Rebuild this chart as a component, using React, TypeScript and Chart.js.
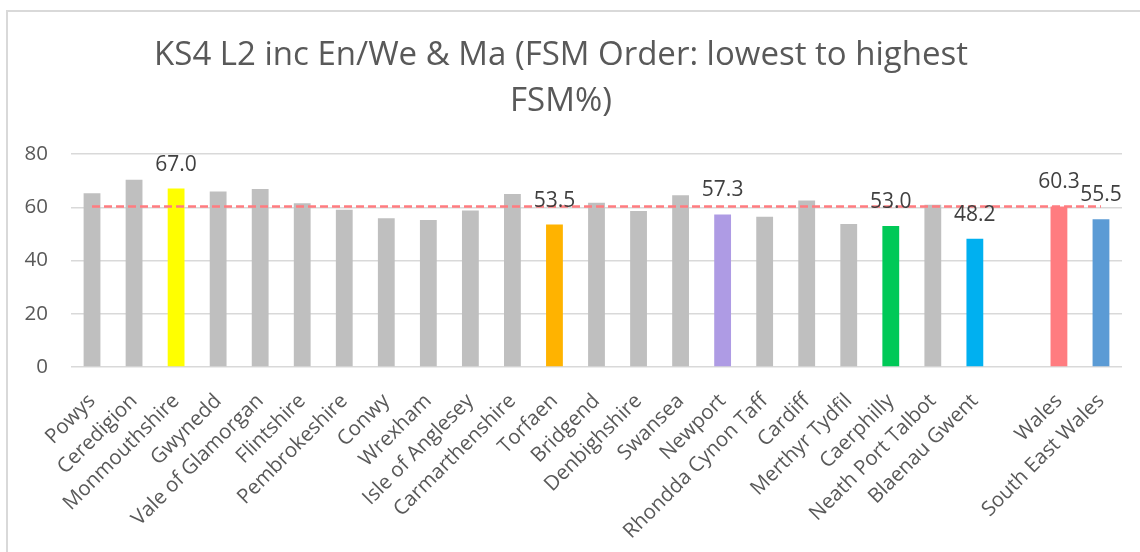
import React, { useEffect, useRef } from "react";
import { Chart, registerables } from "chart.js";

Chart.register(...registerables);

const categories = [
  "Powys", "Ceredigion", "Monmouthshire", "Gwynedd", "Vale of Glamorgan",
  "Flintshire", "Pembrokeshire", "Conwy", "Wrexham", "Isle of Anglesey",
  "Carmarthenshire", "Torfaen", "Bridgend", "Denbighshire", "Swansea",
  "Newport", "Rhondda Cynon Taff", "Cardiff", "Merthyr Tydfil", "Caerphilly",
  "Neath Port Talbot", "Blaenau Gwent", "", "Wales", "South East Wales",
];

const scores: (number | null)[] = [
  65.3, 70.3, 67.0, 65.9, 66.9,
  61.5, 59.1, 55.9, 55.2, 58.8,
  65.0, 53.5, 61.7, 58.6, 64.5,
  57.3, 56.4, 62.5, 53.7, 53.0,
  60.9, 48.2, null, 60.3, 55.5,
];

const walesAverage = 60.3;

const showValueLabel = [
  false, false, true, false, false,
  false, false, false, false, false,
  false, true, false, false, false,
  true, false, false, false, true,
  false, true, false, true, true,
];

const GREY = "#BFBFBF";
const barColors = [
  GREY, GREY, "#FFFF00", GREY, GREY,
  GREY, GREY, GREY, GREY, GREY,
  GREY, "#FFB300", GREY, GREY, GREY,
  "#AE9BE4", GREY, GREY, GREY, "#00C957",
  GREY, "#00B0F0", GREY, "#FF7C80", "#5B9BD5",
];

const yTicks = { min: 0, max: 80, step: 20 };

const titleLines = ["KS4 L2 inc En/We & Ma (FSM Order: lowest to highest", "FSM%)"];

const FONT = "'Open Sans', sans-serif";

const valueLabelPlugin = {
  id: "valueLabels",
  afterDatasetsDraw(chart: any) {
    const meta = chart.getDatasetMeta(0);
    const ctx = chart.ctx;
    ctx.save();
    ctx.font = `21px ${FONT}`;
    ctx.fillStyle = "#404040";
    ctx.textAlign = "center";
    ctx.textBaseline = "alphabetic";
    meta.data.forEach((bar: any, i: number) => {
      const v = scores[i];
      if (!showValueLabel[i] || v == null) return;
      ctx.fillText(v.toFixed(1), bar.x, bar.y - 18);
    });
    ctx.restore();
  },
};

export default function App() {
  const canvasRef = useRef<HTMLCanvasElement | null>(null);

  useEffect(() => {
    let chart: Chart | null = null;
    let cancelled = false;
    const build = () => {
      if (cancelled || !canvasRef.current) return;
      chart = new Chart(canvasRef.current, {
        type: "bar",
        data: {
          labels: categories,
          datasets: [
            {
              type: "bar",
              data: scores,
              backgroundColor: barColors,
              borderWidth: 0,
              barPercentage: 0.4,
              categoryPercentage: 1,
              order: 1,
            } as any,
            {
              type: "line",
              data: categories.map(() => walesAverage),
              borderColor: "#FF7C80",
              borderWidth: 2.5,
              borderDash: [8, 4],
              pointRadius: 0,
              fill: false,
              order: 0,
            } as any,
          ],
        },
        options: {
          animation: false,
          responsive: false,
          devicePixelRatio: 1,
          layout: { padding: { left: 0, right: 18, top: 0, bottom: 0 } },
          plugins: {
            legend: { display: false },
            tooltip: { enabled: false },
            title: {
              display: true,
              text: titleLines,
              color: "#595959",
              font: { family: FONT, size: 33, weight: "normal", lineHeight: 1.394 },
              padding: { top: 33, bottom: 29 },
            },
          },
          scales: {
            x: {
              grid: { display: false },
              border: { display: false },
              ticks: {
                autoSkip: false,
                minRotation: 45,
                maxRotation: 45,
                color: "#595959",
                font: { family: FONT, size: 20.5 },
                padding: 14,
              },
              afterFit(scale: any) {
                scale.height = 185;
              },
            },
            y: {
              min: yTicks.min,
              max: yTicks.max,
              border: { display: false },
              grid: { color: "#D9D9D9", lineWidth: 1.5, drawTicks: false },
              ticks: {
                stepSize: yTicks.step,
                color: "#595959",
                font: { family: FONT, size: 20.5 },
                padding: 23,
              },
              afterFit(scale: any) {
                scale.width = 71;
              },
            },
          },
        },
        plugins: [valueLabelPlugin],
      });
    };
    const fonts = (document as any).fonts;
    if (fonts && fonts.load) {
      Promise.all([fonts.load(`20px "Open Sans"`), fonts.load(`33px "Open Sans"`)])
        .catch(() => {})
        .then(build);
    } else {
      build();
    }
    return () => {
      cancelled = true;
      if (chart) chart.destroy();
    };
  }, []);

  return (
    <div
      style={{
        position: "absolute",
        left: 0,
        top: 0,
        width: 1140,
        height: 552,
        overflow: "hidden",
        background: "#fff",
      }}
    >
      <div
        style={{
          position: "absolute",
          left: 6,
          top: 10,
          width: 1200,
          height: 600,
          border: "2px solid #D9D9D9",
          boxSizing: "border-box",
        }}
      />
      <canvas
        ref={canvasRef}
        width={1140}
        height={552}
        style={{ position: "absolute", left: 0, top: 0, width: 1140, height: 552 }}
      />
    </div>
  );
}
